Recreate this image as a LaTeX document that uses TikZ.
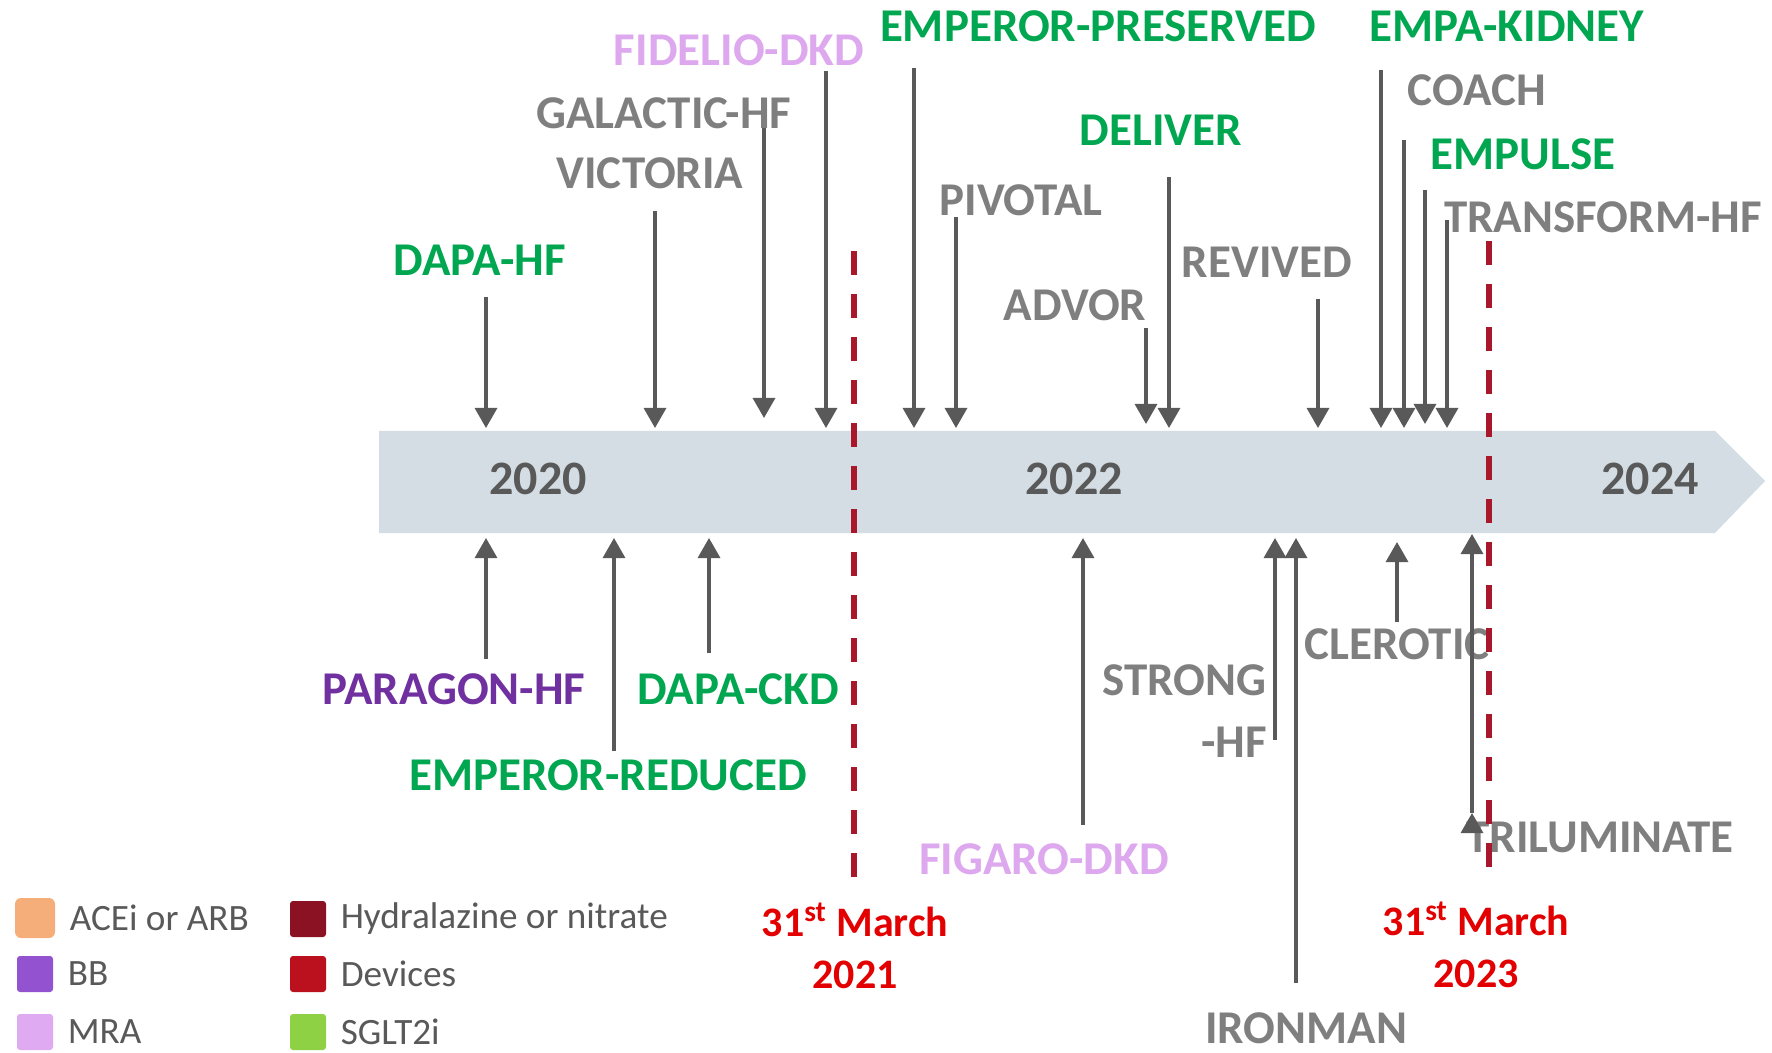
\documentclass[tikz,border=0pt]{standalone}
\usepackage{fontspec}
\setmainfont{Carlito}
\usepackage{xcolor}
\usetikzlibrary{arrows.meta}
\usetikzlibrary{positioning}

\definecolor{sgltgreen}{HTML}{00A650}
\definecolor{trialgrey}{HTML}{7F7F7F}
\definecolor{mrapink}{HTML}{DDA8EE}
\definecolor{bbpurple}{HTML}{7030A0}
\definecolor{arrowgrey}{HTML}{595959}
\definecolor{yeargrey}{HTML}{595959}
\definecolor{barblue}{HTML}{D3DDE3}
\definecolor{cutred}{HTML}{A8182A}
\definecolor{datered}{HTML}{E30000}
\definecolor{aceicol}{HTML}{F5AE7A}
\definecolor{bbcol}{HTML}{9352D0}
\definecolor{mracol}{HTML}{DFAAF2}
\definecolor{hydcol}{HTML}{8A1222}
\definecolor{devcol}{HTML}{BB101E}
\definecolor{sgltcol}{HTML}{8ED145}

\begin{document}
\begin{tikzpicture}[x=0.5pt,y=-0.5pt,>={Triangle[width=11pt,length=10pt]},node distance=7pt]
 \tikzstyle{trial}=[inner sep=0pt, font=\bfseries\fontsize{23.5}{31}\selectfont]
 \tikzstyle{year}=[inner sep=0pt, text=yeargrey, font=\bfseries\fontsize{24}{28}\selectfont]
 \tikzstyle{cutoff}=[draw=cutred, line width=3.2pt, dash pattern=on 12pt off 9.5pt]
 \tikzstyle{datelbl}=[inner sep=0pt, align=center, text=datered, font=\bfseries\fontsize{21}{26}\selectfont]
 \tikzstyle{hit}=[->, draw=arrowgrey, fill=arrowgrey, line width=1.6pt]
 \tikzstyle{legbox}=[minimum size=18pt, inner sep=0pt, rounded corners=1.5pt]
 \tikzstyle{legtext}=[inner sep=0pt, text=yeargrey, font=\fontsize{18.6}{22}\selectfont, anchor=west]

 \useasboundingbox (0,0) rectangle (1772,1053);

 % timeline bar
 \fill[barblue] (379,431) -- (1715,431) -- (1765,481) -- (1715,533) -- (379,533) -- cycle;
 \coordinate (bartop) at (0,428);
 \coordinate (barbot) at (0,538);
 \node[year] (y2020) at (538,479) {2020};
 \node[year] (y2022) at (1074,479) {2022};
 \node[year] (y2024) at (1650,479) {2024};

 % trials above the bar
 \node[trial, text=sgltgreen] (dapahf)    at (480,260)  {DAPA-HF};
 \node[trial, text=trialgrey] (galactic)  at (664,113)  {GALACTIC-HF};
 \node[trial, text=trialgrey] (victoria)  at (650,173)  {VICTORIA};
 \node[trial, text=mrapink]   (fidelio)   at (739,50)   {FIDELIO-DKD};
 \node[trial, text=sgltgreen] (empres)    at (1098,26)  {EMPEROR-PRESERVED};
 \node[trial, text=trialgrey] (pivotal)   at (1021,200) {PIVOTAL};
 \node[trial, text=trialgrey] (advor)     at (1075,305) {ADVOR};
 \node[trial, text=sgltgreen] (deliver)   at (1161,130) {DELIVER};
 \node[trial, text=trialgrey] (revived)   at (1267,262) {REVIVED};
 \node[trial, text=sgltgreen] (empakid)   at (1507,26)  {EMPA-KIDNEY};
 \node[trial, text=trialgrey] (coach)     at (1477,90)  {COACH};
 \node[trial, text=sgltgreen] (empulse)   at (1523,154) {EMPULSE};
 \node[trial, text=trialgrey] (transform) at (1603,217) {TRANSFORM-HF};

 \coordinate (dapahf-a)    at (486,297);
 \coordinate (galactic-a)  at (764,128);
 \coordinate (victoria-a)  at (655,211);
 \coordinate (fidelio-a)   at (826,71);
 \coordinate (empres-a)    at (914,68);
 \coordinate (pivotal-a)   at (956,217);
 \coordinate (advor-a)     at (1146,328);
 \coordinate (deliver-a)   at (1169,177);
 \coordinate (revived-a)   at (1318,299);
 \coordinate (empakid-a)   at (1381,70);
 \coordinate (coach-a)     at (1404,140);
 \coordinate (empulse-a)   at (1425,190);
 \coordinate (transform-a) at (1447,220);

 % trials below the bar
 \node[trial, text=bbpurple]  (paragon)  at (454,689)  {PARAGON-HF};
 \node[trial, text=sgltgreen] (empred)   at (608,775)  {EMPEROR-REDUCED};
 \node[trial, text=sgltgreen] (dapackd)  at (738,689)  {DAPA-CKD};
 \node[trial, text=mrapink]   (figaro)   at (1044,859) {FIGARO-DKD};
 \node[trial, text=trialgrey, align=right, anchor=east] (strong) at (1267,711) {STRONG\\-HF};
 \node[trial, text=trialgrey] (ironman)  at (1306,1028) {IRONMAN};
 \node[trial, text=trialgrey] (clerotic) at (1397,644) {CLEROTIC};
 \node[trial, text=trialgrey] (trilum)   at (1600,837) {TRILUMINATE};

 \coordinate (paragon-a)  at (486,659);
 \coordinate (empred-a)   at (614,751);
 \coordinate (dapackd-a)  at (709,653);
 \coordinate (figaro-a)   at (1083,825);
 \coordinate (strong-a)   at (1275,740);
 \coordinate (ironman-a)  at (1296,983);
 \coordinate (clerotic-a) at (1397,622);
 \coordinate (trilum-a)   at (1472,813);

 \path[hit]
 (dapahf-a) edge (dapahf-a |- bartop)
 (galactic-a) edge[shorten >=5pt] (galactic-a |- bartop)
 (victoria-a) edge (victoria-a |- bartop)
 (fidelio-a) edge (fidelio-a |- bartop)
 (empres-a) edge (empres-a |- bartop)
 (pivotal-a) edge (pivotal-a |- bartop)
 (advor-a) edge[shorten >=2pt] (advor-a |- bartop)
 (deliver-a) edge (deliver-a |- bartop)
 (revived-a) edge (revived-a |- bartop)
 (empakid-a) edge (empakid-a |- bartop)
 (coach-a) edge (coach-a |- bartop)
 (empulse-a) edge[shorten >=2pt] (empulse-a |- bartop)
 (transform-a) edge (transform-a |- bartop)
 (paragon-a) edge (paragon-a |- barbot)
 (empred-a) edge (empred-a |- barbot)
 (dapackd-a) edge (dapackd-a |- barbot)
 (figaro-a) edge (figaro-a |- barbot)
 (strong-a) edge (strong-a |- barbot)
 (ironman-a) edge (ironman-a |- barbot)
 (clerotic-a) edge[shorten >=2pt] (clerotic-a |- barbot)
 (trilum-a) edge[shorten >=-2pt] (trilum-a |- barbot);

 % cut-off dates
 \draw[cutoff] (854,251) -- (854,887);
 \draw[cutoff] (1489,241) -- (1489,876);
 \node[datelbl] (march21) at (855,946) {31\textsuperscript{st} March\\2021};
 \node[datelbl] (march23) at (1476,945) {31\textsuperscript{st} March\\2023};

 % legend
 \node[legbox, fill=aceicol, minimum size=20pt, rounded corners=3pt] (acei) at (35,918) {};
 \node[legbox, fill=bbcol]   (bb)   at (35,974) {};
 \node[legbox, fill=mracol]  (mra)  at (35,1032) {};
 \node[legbox, fill=hydcol]  (hyd)  at (308,919) {};
 \node[legbox, fill=devcol]  (dev)  at (308,974) {};
 \node[legbox, fill=sgltcol] (sglt) at (308,1032) {};
 \node[legtext, right=of acei] (acei-t) {ACEi or ARB};
 \node[legtext, right=of bb]   (bb-t)   {BB};
 \node[legtext, right=of mra]  (mra-t)  {MRA};
 \node[legtext, right=of hyd]  (hyd-t)  {Hydralazine or nitrate};
 \node[legtext, right=of dev]  (dev-t)  {Devices};
 \node[legtext, right=of sglt] (sglt-t) {SGLT2i};
\end{tikzpicture}
\end{document}
